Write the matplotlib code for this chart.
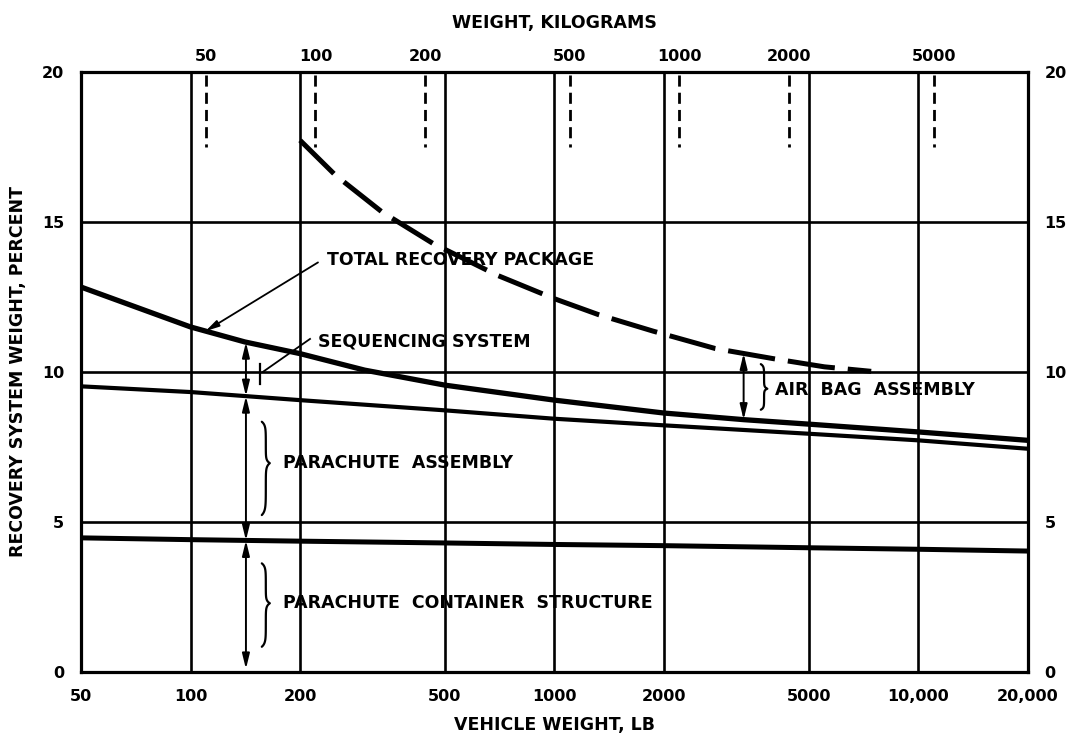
import numpy as np
import matplotlib.pyplot as plt
from matplotlib.ticker import FixedLocator, NullLocator

# vehicle weight, lb  ->  recovery system weight, percent
total_x = [50, 100, 141, 200, 301, 500, 1000, 2000, 3310, 5000, 10000, 20000]
total_y = [12.83, 11.5, 11.0, 10.61, 10.06, 9.56, 9.06, 8.63, 8.41, 8.26, 8.0, 7.72]

chute_x = [50, 100, 200, 500, 1000, 2000, 5000, 10000, 20000]
chute_y = [9.52, 9.33, 9.06, 8.72, 8.44, 8.22, 7.94, 7.72, 7.44]

container_x = [50, 100, 200, 500, 1000, 2000, 5000, 10000, 20000]
container_y = [4.47, 4.41, 4.36, 4.3, 4.25, 4.21, 4.14, 4.09, 4.03]

airbag_x = [200, 250, 336, 464, 697, 1000, 1321, 1867, 2767, 4006, 5520, 7420]
airbag_y = [17.72, 16.56, 15.33, 14.28, 13.22, 12.44, 11.91, 11.36, 10.78, 10.44,
            10.17, 10.02]

lb_ticks = [50, 100, 200, 500, 1000, 2000, 5000, 10000, 20000]
lb_labels = ['50', '100', '200', '500', '1000', '2000', '5000', '10,000', '20,000']
kg_ticks = [50, 100, 200, 500, 1000, 2000, 5000]
y_ticks = [0, 5, 10, 15, 20]

LB_PER_KG = 2.2046
plt.rcParams['font.family'] = 'DejaVu Sans'
plt.rcParams['font.weight'] = 'bold'
plt.rcParams['axes.labelweight'] = 'bold'


def at(xs, ys, x):
    return np.interp(np.log10(x), np.log10(xs), ys)


def brace(ax, x0, ytop, ybot, ymid, width=0.022, lw=1.6):
    # curly brace "}" with its tip pointing right; width in decades
    s = np.linspace(0, 1, 60)
    top_y = ytop + (ymid - ytop) * s
    top_w = 0.5 * (1 - np.exp(-s / 0.08)) + 0.5 * np.exp(-(1 - s) / 0.06)
    bot_y = ymid + (ybot - ymid) * s
    bot_w = 0.5 * (1 - np.exp(-(1 - s) / 0.08)) + 0.5 * np.exp(-s / 0.06)
    yy = np.concatenate([top_y, bot_y])
    ww = np.concatenate([top_w, bot_w])
    ax.plot(x0 * 10 ** (width * ww), yy, color='black', lw=lw,
            solid_capstyle='round')


def double_arrow(ax, x, y1, y2):
    ax.annotate('', xy=(x, y2), xytext=(x, y1),
                arrowprops=dict(arrowstyle='<|-|>,head_length=0.9,head_width=0.22',
                                color='black', lw=1.4, shrinkA=0, shrinkB=0))


fig = plt.figure(figsize=(10.81, 7.39), dpi=100)
ax = fig.add_axes([0.0749, 0.0907, 0.876, 0.812])
ax.set_xscale('log')
ax.set_xlim(50, 20000)
ax.set_ylim(0, 20)

# grid
for x in lb_ticks[1:-1]:
    ax.axvline(x, color='black', lw=1.9, zorder=1)
for y in y_ticks[1:-1]:
    ax.axhline(y, color='black', lw=1.9, zorder=1)
for side in ['left', 'right', 'top', 'bottom']:
    ax.spines[side].set_linewidth(2.3)

# kilogram marks hanging from the top
for kg in kg_ticks:
    ax.plot([kg * LB_PER_KG] * 2, [19.9, 17.5], color='black', lw=2.0,
            linestyle=(0, (4, 2.2)), zorder=2)

# curves
ax.plot(total_x, total_y, color='black', lw=3.8, zorder=3)
ax.plot(chute_x, chute_y, color='black', lw=3.0, zorder=3)
ax.plot(container_x, container_y, color='black', lw=3.6, zorder=3)
ax.plot(airbag_x, airbag_y, color='black', lw=3.6, linestyle=(0, (9.5, 2.6)),
        zorder=3)

# axes ticks
ax.xaxis.set_major_locator(FixedLocator(lb_ticks))
ax.xaxis.set_minor_locator(NullLocator())
ax.set_xticklabels(lb_labels)
ax.set_yticks(y_ticks)
ax.tick_params(axis='both', length=0, labelsize=11.5, pad=12)
ax.tick_params(axis='y', right=True, labelright=True)
ax.set_xlabel('VEHICLE WEIGHT, LB', fontsize=12.5, labelpad=9)
ax.set_ylabel('RECOVERY SYSTEM WEIGHT, PERCENT', fontsize=12.5, labelpad=11)

top = ax.secondary_xaxis('top', functions=(lambda v: v / LB_PER_KG,
                                           lambda v: v * LB_PER_KG))
top.xaxis.set_major_locator(FixedLocator(kg_ticks))
top.xaxis.set_minor_locator(NullLocator())
top.set_xticklabels([str(k) for k in kg_ticks])
top.tick_params(length=0, labelsize=11.5, pad=6)
top.spines['top'].set_visible(False)
top.set_xlabel('WEIGHT, KILOGRAMS', fontsize=12.5, labelpad=15)

txt = dict(fontsize=12.5, ha='left', va='center', fontweight='bold')

# total recovery package
ax.text(237, 13.72, 'TOTAL RECOVERY PACKAGE', **txt)
ax.annotate('', xy=(110, at(total_x, total_y, 110)), xytext=(224, 13.65),
            arrowprops=dict(arrowstyle='-|>,head_length=0.8,head_width=0.2',
                            color='black', lw=1.3, shrinkA=0, shrinkB=0))

# sequencing system
ax.text(224, 11.0, 'SEQUENCING SYSTEM', **txt)
ax.plot([213, 158], [11.1, 10.0], color='black', lw=1.3)
ax.plot([155, 155], [9.61, 10.28], color='black', lw=1.6)

# dimension arrows at 142 lb
xa = 142
double_arrow(ax, xa, at(total_x, total_y, xa), at(chute_x, chute_y, xa))
double_arrow(ax, xa, at(chute_x, chute_y, xa), at(container_x, container_y, xa))
double_arrow(ax, xa, at(container_x, container_y, xa), 0.1)

# parachute assembly
brace(ax, 157, 8.34, 5.23, 6.96)
ax.text(179, 6.96, 'PARACHUTE  ASSEMBLY', **txt)

# parachute container structure
brace(ax, 157, 3.62, 0.84, 2.29)
ax.text(179, 2.29, 'PARACHUTE  CONTAINER  STRUCTURE', **txt)

# air bag assembly
xb = 3310
double_arrow(ax, xb, at(airbag_x, airbag_y, xb), at(total_x, total_y, xb))
brace(ax, 3690, 10.26, 8.74, 9.44, width=0.018)
ax.text(4030, 9.41, 'AIR  BAG  ASSEMBLY', **txt)

fig.savefig('out.png', dpi=100)
